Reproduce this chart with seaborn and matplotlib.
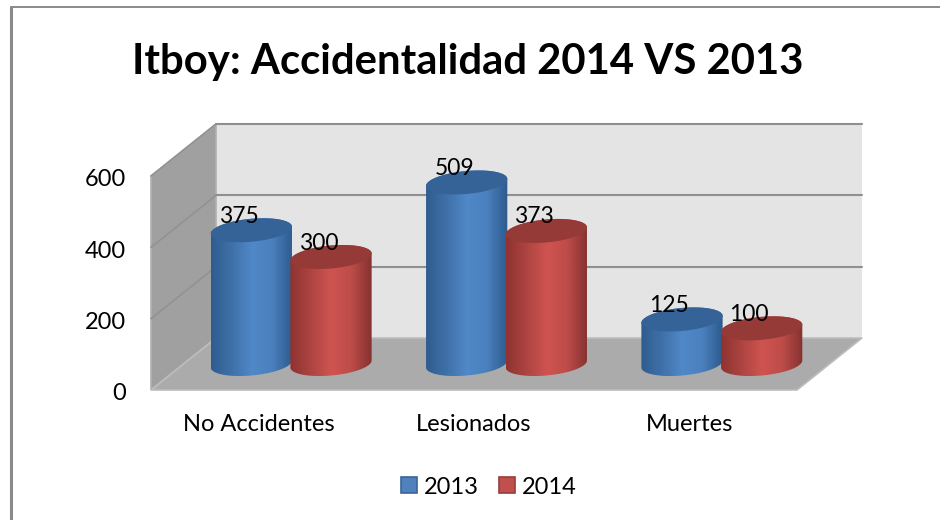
import numpy as np
import pandas as pd
import matplotlib.pyplot as plt
import seaborn as sns
from matplotlib.path import Path
from matplotlib.patches import Polygon, PathPatch, Rectangle
from matplotlib.colors import LinearSegmentedColormap
from matplotlib.transforms import ScaledTranslation

categories = ['No Accidentes', 'Lesionados', 'Muertes']
years = ['2013', '2014']
values_2013 = [375, 509, 125]
values_2014 = [300, 373, 100]
y_ticks = [0, 200, 400, 600]
title = 'Itboy: Accidentalidad 2014 VS 2013'

W, H = 940, 520
sns.set_theme(style='white')
plt.rcParams['font.family'] = ['Lato', 'DejaVu Sans']

df = pd.DataFrame({
    'cat': categories * 2,
    'year': [years[0]] * 3 + [years[1]] * 3,
    'val': values_2013 + values_2014,
})

fig = plt.figure(figsize=(W / 100, H / 100), dpi=100, facecolor='white')


def px_axes(left, right, top, bottom, z=1):
    # axes placed by pixel box, y measured from the top of the image
    a = fig.add_axes([left / W, 1 - bottom / H, (right - left) / W, (bottom - top) / H], zorder=z)
    a.patch.set_alpha(0)
    return a


# background layer in pixels, walls + floor + frame
bg = px_axes(0, W, 0, H, z=0)
bg.set_xlim(0, W)
bg.set_ylim(H, 0)
bg.axis('off')
bg.plot([11, 11], [H, 7], color='#8a8a8a', lw=2.2, clip_on=False)
bg.plot([11, W], [7, 7], color='#8a8a8a', lw=1.4, clip_on=False)

front_l, front_r, front_0, front_600 = 151, 797, 390, 176
dx, dy = 65, 52
bg.add_patch(Polygon([(front_l + dx, front_600 - dy), (front_r + dx, front_600 - dy),
                      (front_r + dx, front_0 - dy), (front_l + dx, front_0 - dy)],
                     fc='#e4e4e4', ec='none'))
bg.add_patch(Polygon([(front_l, front_600), (front_l + dx, front_600 - dy),
                      (front_l + dx, front_0 - dy), (front_l, front_0)],
                     fc='#a0a0a0', ec='#b0b0b0', lw=1.2))
bg.add_patch(Polygon([(front_l, front_0), (front_l + dx, front_0 - dy),
                      (front_r + dx, front_0 - dy), (front_r, front_0)],
                     fc='#ababab', ec='#bdbdbd', lw=1.2))
per_unit = (front_0 - front_600) / 600
for t in y_ticks[1:]:
    yy = front_0 - t * per_unit
    bg.plot([front_l, front_l + dx], [yy, yy - dy], color='#929292', lw=1.2)
    bg.plot([front_l + dx, front_r + dx], [yy - dy, yy - dy], color='#8f8f8f', lw=1.5)

# front plane axes only carries the tick labels
front = px_axes(front_l, front_r, front_600, front_0, z=1)
sns.barplot(data=df, x='cat', y='val', hue='year', ax=front, alpha=0, legend=False)
front.set_ylim(0, 600)
front.set_yticks(y_ticks)
front.set_xlabel('')
front.set_ylabel('')
front.tick_params(axis='y', labelsize=17, colors='black', pad=18, length=0)
front.tick_params(axis='x', labelsize=17, colors='black', pad=17, length=0)
# numbers sit 2px lower than matplotlib centres them
nudge = ScaledTranslation(0, -2 / 100, fig.dpi_scale_trans)
for lab in front.get_yticklabels():
    lab.set_transform(lab.get_transform() + nudge)
sns.despine(ax=front, left=True, bottom=True)

# bars sit in the middle of the depth, y range goes below 0 so the round bottoms are not cut
y_low = -100
ax = px_axes(front_l + dx / 2, front_r + dx / 2, front_600 - 26, front_0 - 26 - y_low * per_unit, z=2)
sns.barplot(data=df, x='cat', y='val', hue='year', ax=ax, width=0.74, gap=0,
            palette=['#4f81bd', '#c0504d'], legend=False)
ax.axis('off')

cmaps = {
    0: LinearSegmentedColormap.from_list('b', ['#2f5c8f', '#3f70a8', '#5088c8', '#4a80bd', '#2d5a8e']),
    1: LinearSegmentedColormap.from_list('r', ['#8e3330', '#ad4441', '#cf5450', '#bd4c49', '#843230']),
}
tops = {0: '#356398', 1: '#963a37'}
ell_h = 11.5 / per_unit  # half height of the cap in data units
tilt = 3.5 / per_unit  # caps lean a little, right side higher
theta = np.linspace(0, 2 * np.pi, 90)
grad = np.linspace(0, 1, 256).reshape(1, -1)

bars = [p for p in ax.patches if p.get_height() > 0]
# draw left to right so the red one overlaps the blue one
for i, p in enumerate(bars):
    series = 0 if i < 3 else 1
    x0, w, h = p.get_x(), p.get_width(), p.get_height()
    p.set_visible(False)
    cx = x0 + w / 2
    hw = w / 2 * 1.02
    z = 3 + series
    ex = cx + hw * np.cos(theta)
    top_y = h + ell_h * np.sin(theta) + tilt * np.cos(theta)
    # outline: lower half of bottom ellipse + upper half of top ellipse
    lower = theta[45:]
    upper = theta[:46]
    xs = np.r_[cx + hw * np.cos(lower), cx + hw * np.cos(upper)]
    ys = np.r_[ell_h * np.sin(lower) + tilt * np.cos(lower),
               h + ell_h * np.sin(upper) + tilt * np.cos(upper)]
    clip = PathPatch(Path(np.c_[xs, ys]), transform=ax.transData, fc='none', ec='none')
    ax.add_patch(clip)
    im = ax.imshow(grad, extent=[cx - hw, cx + hw, -ell_h * 2, h + ell_h * 2], aspect='auto',
                   cmap=cmaps[series], zorder=z, interpolation='bilinear')
    im.set_clip_path(clip)
    ax.fill(ex, top_y, color=tops[series], zorder=z + 0.1, lw=0)
    ax.text(cx - 12.5 / 215, h + 14 / per_unit, str(int(h)), ha='center', va='center',
            fontsize=16.5, color='black', zorder=8)
ax.set_xlim(-0.5, 2.5)
ax.set_ylim(y_low, 600)

# legend row
fig.legend(handles=[Rectangle((0, 0), 1, 1, fc='#4f81bd', ec='#3a6597', lw=1.2),
                    Rectangle((0, 0), 1, 1, fc='#c0504d', ec='#963e3b', lw=1.2)],
           labels=years, loc='center', bbox_to_anchor=(489 / W, 1 - 487 / H), ncol=2, frameon=False,
           fontsize=17, labelcolor='black', handlelength=0.68, handleheight=0.68,
           handletextpad=0.3, columnspacing=0.85)

fig.text(468 / W, 1 - 62 / H, title, ha='center', va='center', fontsize=30.2, fontweight='bold', color='black')

fig.savefig('out.png', dpi=100, facecolor='white')
